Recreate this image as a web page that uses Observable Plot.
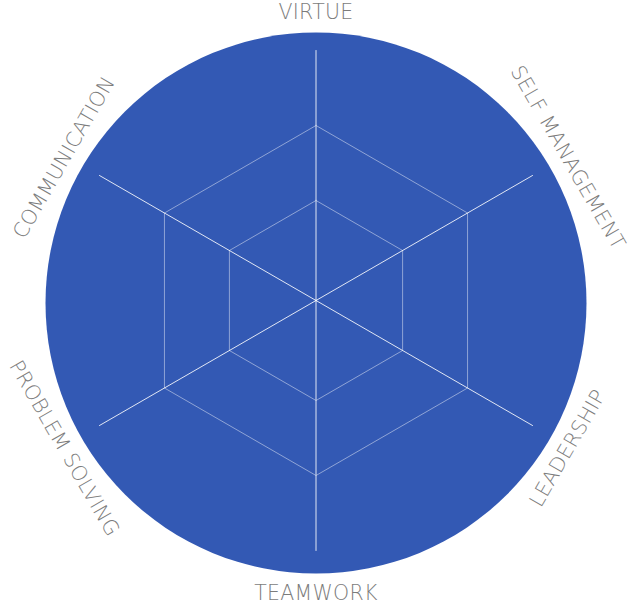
<!DOCTYPE html>
<html>
<head>
<meta charset="utf-8">
<script src="https://cdn.jsdelivr.net/npm/d3@7"></script>
<script src="https://cdn.jsdelivr.net/npm/@observablehq/plot@0.6"></script>
<style>
  html, body { margin: 0; padding: 0; background: #fff; }
  #chart { width: 630px; height: 608px; }
  #chart text { letter-spacing: 0.3px; }
</style>
</head>
<body>
<div id="chart"></div>
<script>
// Axes of the radar, clockwise from the top
const axes = ["VIRTUE", "SELF MANAGEMENT", "LEADERSHIP", "TEAMWORK", "PROBLEM SOLVING", "COMMUNICATION"];
// Grid ring levels (fraction of full spoke length)
const levels = [0.4, 0.7];
const spokeLength = 1.0;
const backgroundRadius = 1.082;
const backgroundOffsetY = -0.01; // disc sits slightly below the spoke hub
const labelRadius = 1.163;

const n = axes.length;
const angleOf = i => (i * 2 * Math.PI) / n; // clockwise from top
const px = (r, a) => r * Math.sin(a);
const py = (r, a) => r * Math.cos(a);

const spokes = axes.flatMap((name, i) => [
  {name, x: 0, y: 0},
  {name, x: px(spokeLength, angleOf(i)), y: py(spokeLength, angleOf(i))}
]);

const rings = levels.flatMap(l =>
  d3.range(n + 1).map(i => ({level: l, x: px(l, angleOf(i % n)), y: py(l, angleOf(i % n))}))
);

const labels = axes.map((name, i) => {
  const deg = (i * 360) / n;
  let rot = deg;
  if (deg > 90 && deg < 270) rot = deg - 180;
  if (deg >= 270) rot = deg - 360;
  return {name, x: px(labelRadius, angleOf(i)), y: backgroundOffsetY + py(labelRadius, angleOf(i)), rot};
});

const unit = 250; // pixels per unit
const W = 630, H = 608, cx = 315.5, cy = 300;

const chart = Plot.plot({
  width: W,
  height: H,
  margin: 0,
  style: {background: "transparent"},
  x: {domain: [-cx / unit, (W - cx) / unit], range: [0, W], axis: null},
  y: {domain: [-(H - cy) / unit, cy / unit], range: [H, 0], axis: null},
  marks: [
    Plot.dot([{x: 0, y: backgroundOffsetY}], {x: "x", y: "y", r: backgroundRadius * unit, fill: "#3359b4", stroke: "none"}),
    Plot.line(rings, {x: "x", y: "y", z: "level", stroke: "white", strokeOpacity: 0.45, strokeWidth: 1}),
    Plot.line(spokes, {x: "x", y: "y", z: "name", stroke: "white", strokeOpacity: 0.85, strokeWidth: 1}),
    Plot.text(labels, {
      x: "x", y: "y", text: "name", rotate: "rot",
      textAnchor: "middle", lineAnchor: "middle",
      fill: "#7c7c7c", fontSize: 20.5, fontWeight: 200,
      fontFamily: "'DejaVu Sans', sans-serif"
    })
  ]
});

document.getElementById("chart").appendChild(chart);
</script>
</body>
</html>
